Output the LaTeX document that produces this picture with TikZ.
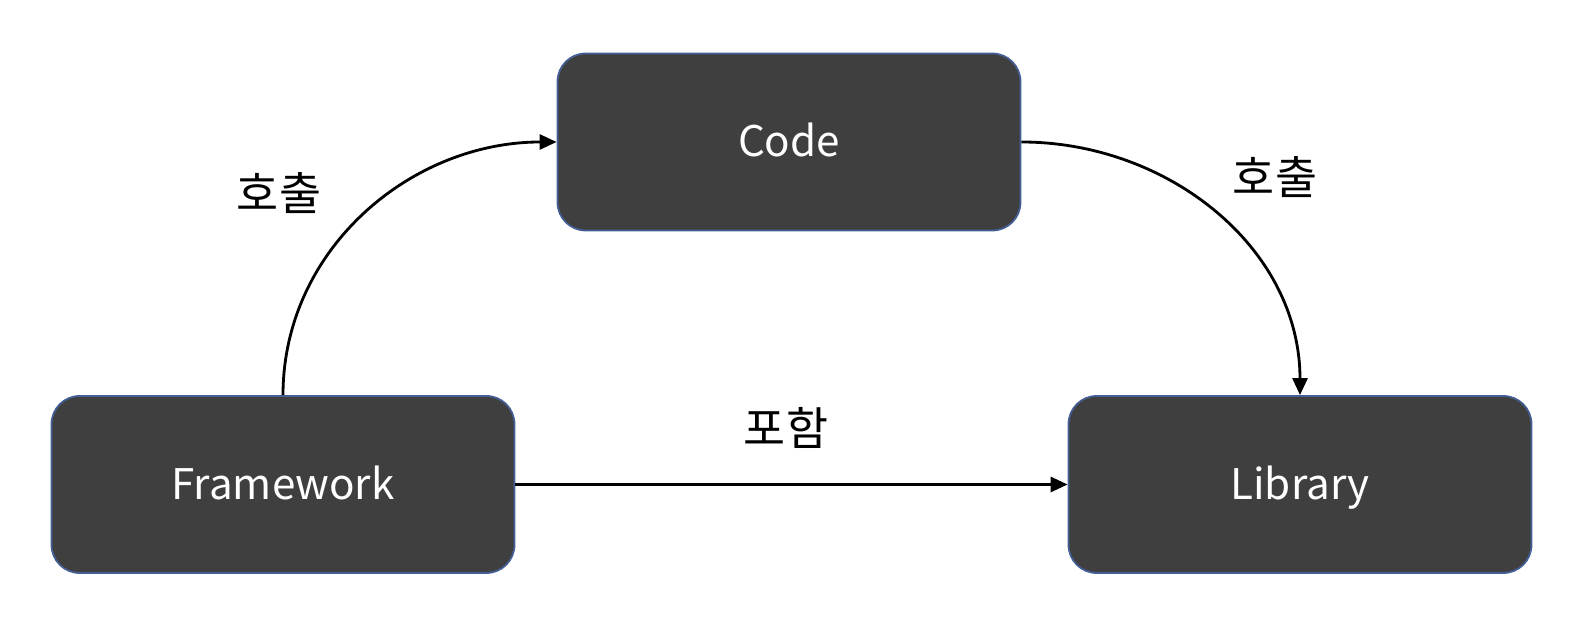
\documentclass[tikz,border=0pt]{standalone}
\usepackage{fontspec}
\setmainfont{Noto Sans CJK KR}
\usepackage{tikz}
\usetikzlibrary{positioning, arrows.meta}
\definecolor{BoxGray}{RGB}{63,63,63}
\definecolor{BoxEdge}{RGB}{68,94,150}

\begin{document}
\begin{tikzpicture}[
      block/.style={rectangle, draw=BoxEdge, line width=0.5pt, rounded corners=8pt,
                    fill=BoxGray, text=white, minimum width=4.63cm,
                    minimum height=1.77cm, text height=1.05em, text depth=0.2em,
                    font=\fontsize{12}{15}\selectfont},
      link/.style={-{Triangle[length=1.7mm, width=1.5mm]}, line width=0.8pt, black},
      lbl/.style={font=\fontsize{13}{16}\selectfont, black}
    ]
    \useasboundingbox (0,0) rectangle (15.9,6.44);

    % Boxes
    \node[block] (code) at (7.89, 5.02) {Code};
    \node[block] (fw)   at (2.83, 1.595) {Framework};
    \node[block] (lib)  at (13.00, 1.595) {Library};

    % Connectors
    \draw[link] (fw.north) to[out=90, in=180] (code.west);
    \draw[link] (code.east) to[out=0, in=90] (lib.north);
    \draw[link] (fw.east) -- (lib.west);

    % Labels
    \node[lbl] (callL) at (2.79, 4.51) {호출};
    \node[lbl] (callR) at (12.75, 4.67) {호출};
    \node[lbl] (incl)  at (7.86, 2.16) {포함};
  \end{tikzpicture}
\end{document}
